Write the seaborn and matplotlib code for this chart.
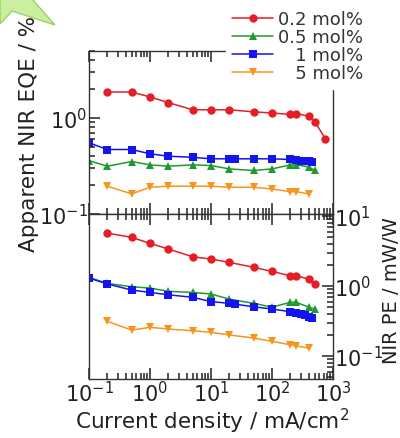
import matplotlib
matplotlib.use("Agg")
import matplotlib.pyplot as plt
import matplotlib.transforms as mtransforms
from matplotlib.collections import LineCollection
from matplotlib.patches import Polygon
from matplotlib.lines import Line2D
import numpy as np
import seaborn as sns

# current density (mA/cm2)
x_red = [0.2, 0.5, 1, 2, 5, 10, 20, 50, 100, 200, 250, 400, 500, 750]
x_green = [0.1, 0.2, 0.5, 1, 2, 5, 10, 20, 50, 100, 200, 250, 400, 500]
x_blue = [0.1, 0.2, 0.5, 1, 2, 5, 10, 20, 25, 50, 100, 200, 250, 300, 350, 400, 450]
x_orange = [0.2, 0.5, 1, 2, 5, 10, 20, 50, 100, 200, 250, 400]

# apparent NIR EQE (%)
eqe_red = [1.87, 1.87, 1.66, 1.45, 1.22, 1.22, 1.22, 1.16, 1.13, 1.09, 1.11, 1.05, 0.92, 0.61]
eqe_green = [0.36, 0.315, 0.352, 0.325, 0.315, 0.325, 0.32, 0.295, 0.284, 0.295, 0.325, 0.325, 0.31, 0.284]
eqe_blue = [0.552, 0.47, 0.47, 0.424, 0.40, 0.39, 0.376, 0.376, 0.376, 0.376, 0.376, 0.37, 0.365, 0.36, 0.36, 0.355, 0.35]
eqe_orange = [0.195, 0.162, 0.19, 0.195, 0.195, 0.195, 0.19, 0.19, 0.182, 0.171, 0.171, 0.162]

# NIR PE (mW/W)
pe_red = [5.7, 4.96, 4.07, 3.38, 2.62, 2.43, 2.18, 1.85, 1.62, 1.40, 1.40, 1.26, 1.07]
pe_green = [1.33, 1.09, 0.977, 0.936, 0.84, 0.81, 0.77, 0.65, 0.566, 0.50, 0.585, 0.585, 0.50, 0.47]
pe_blue = [1.30, 1.07, 0.877, 0.81, 0.75, 0.69, 0.60, 0.566, 0.55, 0.506, 0.469, 0.43, 0.41, 0.395, 0.38, 0.365, 0.35]
pe_orange = [0.313, 0.235, 0.257, 0.243, 0.23, 0.218, 0.20, 0.181, 0.162, 0.145, 0.14, 0.13]

labels = ["0.2 mol%", "0.5 mol%", "\u2007\u20081 mol%", "\u2007\u20085 mol%"]
colors = ["#e41e26", "#1f9a2e", "#1414ee", "#f7941d"]
markers = ["o", "^", "s", "v"]

sns.set_theme(style="ticks")
plt.rcParams["font.family"] = ["DejaVu Sans"]

W, H, DPI = 4.0, 4.39, 100
fig = plt.figure(figsize=(W, H), dpi=DPI)
ax1 = fig.add_axes([0.2225, 0.5103, 0.61, 0.3712])
ax2 = fig.add_axes([0.2225, 0.1344, 0.61, 0.3759])

series_top = [(x_red, eqe_red), (x_green, eqe_green), (x_blue, eqe_blue), (x_orange, eqe_orange)]
series_bot = [(x_red[:13], pe_red), (x_green, pe_green), (x_blue, pe_blue), (x_orange, pe_orange)]

for ax, series in [(ax1, series_top), (ax2, series_bot)]:
    for (xs, ys), c, m in zip(series, colors, markers):
        sns.lineplot(x=xs, y=ys, color=c, marker=m, markersize=6, mec=c, mew=0,
                     linewidth=1.1, ax=ax, legend=False)
    ax.set_xscale("log")
    ax.set_yscale("log")
    ax.set_xlim(0.1, 1000)
    ax.set_xlabel("")
    ax.set_ylabel("")
    for s in ax.spines.values():
        s.set_color("#333333")
        s.set_linewidth(1.0)

ax1.set_ylim(0.1, 5)
ax2.set_ylim(0.047, 10.7)

for ax in (ax1, ax2):
    ax.tick_params(which="both", direction="in", length=0, labelsize=15, pad=1,
                   labelcolor="#222222")
ax1.tick_params(axis="x", labelbottom=False)
ax2.tick_params(axis="y", labelleft=False, labelright=True)


def inward_ticks(ax, xsides, ysides):
    # short inward tick marks drawn along the chosen spines
    pos = ax.get_position()
    w_px, h_px = pos.width * W * DPI, pos.height * H * DPI
    x0, x1 = ax.get_xlim()
    y0, y1 = ax.get_ylim()
    big, small = 8 * DPI / 72, 4 * DPI / 72
    segs = []
    tx = mtransforms.blended_transform_factory(ax.transData, ax.transAxes)
    for locs, L in [(ax.xaxis.get_majorticklocs(), big), (ax.xaxis.get_minorticklocs(), small)]:
        for v in locs:
            if x0 <= v <= x1:
                for side in xsides:
                    base = 0 if side == "bottom" else 1
                    d = L / h_px if side == "bottom" else -L / h_px
                    segs.append([(v, base), (v, base + d)])
    ax.add_collection(LineCollection(segs, transform=tx, colors="#222222",
                                     linewidths=1.1, clip_on=False), autolim=False)
    segs = []
    ty = mtransforms.blended_transform_factory(ax.transAxes, ax.transData)
    for locs, L in [(ax.yaxis.get_majorticklocs(), big), (ax.yaxis.get_minorticklocs(), small)]:
        for v in locs:
            if y0 <= v <= y1:
                for side in ysides:
                    base = 0 if side == "left" else 1
                    d = L / w_px if side == "left" else -L / w_px
                    segs.append([(base, v), (base + d, v)])
    ax.add_collection(LineCollection(segs, transform=ty, colors="#222222",
                                     linewidths=1.1, clip_on=False), autolim=False)


inward_ticks(ax1, ["bottom", "top"], ["left"])
inward_ticks(ax2, ["bottom", "top"], ["right"])

fig.text(0.073, 0.695, "Apparent NIR EQE / %", rotation=90, ha="center", va="center",
         fontsize=15.5, color="#222222")
fig.text(0.53, 0.022, "Current density / mA/cm$^2$", ha="center", va="baseline",
         fontsize=15.5, color="#222222")
fig.text(0.955, 0.337, "NIR PE / mW/W", rotation=90, ha="left", va="center",
         fontsize=14, color="#222222")

# green decoration in the corner
corner = np.array([[0, 0], [32, 0], [55, 26], [12, 12], [0, 25]], dtype=float)
corner[:, 0] = corner[:, 0] / 400
corner[:, 1] = 1 - corner[:, 1] / 439
fig.add_artist(Polygon(corner, closed=True, transform=fig.transFigure,
                       facecolor="#c9ef9f", edgecolor="#9fd067", linewidth=1))

handles = [Line2D([], [], color=c, marker=m, markersize=6, mew=0, linewidth=1.1)
           for c, m in zip(colors, markers)]
leg = fig.legend(handles, labels, loc="upper right", bbox_to_anchor=(0.925, 1 - 5 / 439),
                 fontsize=13, frameon=True, facecolor="white", edgecolor="white",
                 framealpha=1, fancybox=False, handlelength=2.28, handletextpad=0.28,
                 labelspacing=0.0, borderpad=0.35, borderaxespad=0.0)
for t in leg.get_texts():
    t.set_color("#333333")

fig.savefig("out.png", dpi=DPI)
